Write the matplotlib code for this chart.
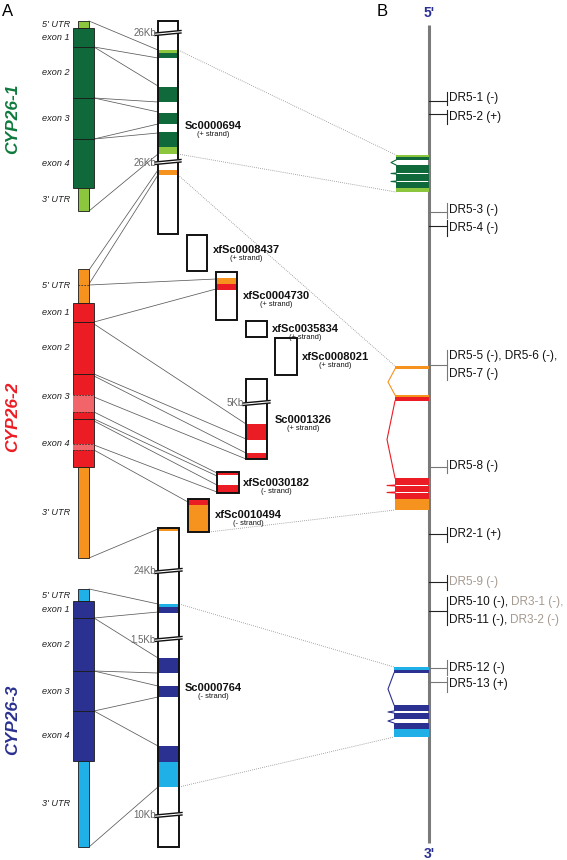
import matplotlib
matplotlib.use('Agg')
import matplotlib.pyplot as plt
from matplotlib.patches import Rectangle, Polygon

plt.rcParams['font.family'] = ['Liberation Sans', 'DejaVu Sans']

# ---------------- colours ----------------
DG = '#10693a'; LG = '#8cc63f'; OR = '#f6921e'; RD = '#ec1c24'; DB = '#2b3190'; LB = '#1fb0e8'
LINE = '#5a5a5a'; DOT = '#8a8a8a'; GREY_TXT = '#a59a90'

# ---------------- panel A: gene models ----------------
gene_names = ['CYP26-1', 'CYP26-2', 'CYP26-3']
gene_label_colors = ['#0f7a3d', RD, DB]
gene_label_y = [119, 417, 720]
seg_labels = ["5' UTR", 'exon 1', 'exon 2', 'exon 3', 'exon 4', "3' UTR"]
cyp1_bounds = [21, 28, 47, 98, 139, 188, 211]
cyp2_bounds = [269, 303, 322, 374, 419, 467, 558]
cyp3_bounds = [589, 601, 618, 671, 711, 761, 847]
gene_bounds = [cyp1_bounds, cyp2_bounds, cyp3_bounds]
exon_colors = [DG, RD, DB]
utr_colors = [LG, OR, LB]
# lighter (alternative) parts of CYP26-2 exons
cyp2_light = [(395, 412), (444, 450)]

# ---------------- scaffolds ----------------
scaf_names = ['Sc0000694', 'xfSc0008437', 'xfSc0004730', 'xfSc0035834', 'xfSc0008021',
              'Sc0001326', 'xfSc0030182', 'xfSc0010494', 'Sc0000764']
scaf_strand = ['(+ strand)', '(+ strand)', '(+ strand)', '(+ strand)', '(+ strand)',
               '(+ strand)', '(- strand)', '(- strand)', '(- strand)']
scaf_x = [(158, 178), (187, 207), (216, 237), (246, 267), (275, 297),
          (246, 267), (217, 239), (188, 209), (158, 179)]
scaf_y = [(21, 234), (235, 271), (272, 320), (321, 337), (338, 375),
          (379, 459), (472, 493), (499, 532), (528, 847)]
scaf_bands = [
    [(50, 53, LG), (53, 58, DG), (87, 102, DG), (113, 124, DG), (132, 147, DG), (147, 154, LG), (170, 175, OR)],
    [],
    [(278, 284, OR), (284, 290, RD)],
    [],
    [],
    [(424, 440, RD), (453, 459, RD)],
    [(472, 475, RD), (485, 493, RD)],
    [(499, 505, RD), (505, 532, OR)],
    [(528, 531, OR), (604, 607, LB), (607, 613, DB), (658, 673, DB), (686, 697, DB), (746, 762, DB), (762, 787, LB)],
]
scaf_breaks = [[(32, '26Kb'), (161, '26Kb')], [], [], [], [], [(402, '5Kb')], [], [],
               [(570, '24Kb'), (638, '1,5Kb'), (814, '10Kb')]]
scaf_label_xy = [(185, 126), (213, 250), (243, 296), (272, 329), (302, 357),
                 (275, 420), (243, 483), (215, 515), (185, 688)]

# ---------------- exon -> scaffold connection lines ----------------
links_cyp1 = [((89, 21), (158, 50)), ((94, 47), (158, 58)), ((94, 47), (158, 86)),
              ((94, 98), (158, 102)), ((94, 98), (158, 112)), ((94, 139), (158, 124)),
              ((94, 139), (158, 133)), ((89, 211), (158, 154))]
links_cyp2 = [((89, 270), (158, 170)), ((89, 284), (158, 175)),
              ((89, 285), (216, 279)), ((94, 322), (216, 289)), ((94, 324), (246, 424)),
              ((94, 374), (246, 439)), ((94, 376), (246, 453)), ((94, 397), (246, 459)),
              ((94, 412), (217, 473)), ((94, 419), (217, 476)), ((94, 421), (217, 485)),
              ((94, 445), (217, 492)), ((94, 450), (188, 502)), ((89, 558), (158, 529))]
links_cyp3 = [((89, 589), (158, 604)), ((94, 618), (158, 612)), ((94, 618), (158, 658)),
              ((94, 671), (158, 673)), ((94, 671), (158, 686)), ((94, 711), (158, 697)),
              ((94, 711), (158, 746)), ((89, 847), (158, 787))]
dotted_links = [((178, 50), (396, 155)), ((178, 154), (396, 192)), ((178, 175), (395, 366)),
                ((209, 532), (395, 510)), ((179, 604), (394, 667)), ((179, 787), (394, 737))]

# ---------------- panel B: genomic axis ----------------
b_glyph_x0 = [396, 395, 394]
b_bars = [
    [(155, 157, LG), (157, 160, DG), (165, 173, DG), (174, 181, DG), (182, 188, DG), (188, 192, LG)],
    [(366, 369, OR), (395, 397, OR), (397, 401, RD), (478, 485, RD), (486, 492, RD), (493, 499, RD), (499, 510, OR)],
    [(667, 670, LB), (670, 673, DB), (705, 711, DB), (713, 719, DB), (723, 729, DB), (729, 737, LB)],
]
b_introns = [
    [((160, 165), 5, DG), ((173, 174), 5, DG), ((181, 182), 5, DG)],
    [((369, 395), 7, OR), ((401, 478), 8, RD), ((485, 486), 8, RD), ((492, 493), 8, RD)],
    [((673, 705), 6, DB), ((711, 713), 6, DB), ((719, 723), 6, DB)],
]

dr_tick_y = [101, 114, 212, 226, 365, 467, 534, 582, 611, 668, 682]
dr_bar = [(92, 105), (110, 124), (203, 218), (220, 236), (350, 380), (460, 473),
          (527, 542), (575, 590), (597, 625), (660, 675), (677, 692)]
dr_tick_col = ['#222', '#222', '#777', '#222', '#777', '#777', '#222', '#222', '#222', '#777', '#777']
dr_labels = [
    [[('DR5-1 (-)', 'k')]],
    [[('DR5-2 (+)', 'k')]],
    [[('DR5-3 (-)', 'k')]],
    [[('DR5-4 (-)', 'k')]],
    [[('DR5-5 (-), DR5-6 (-),', 'k')], [('DR5-7 (-)', 'k')]],
    [[('DR5-8 (-)', 'k')]],
    [[('DR2-1 (+)', 'k')]],
    [[('DR5-9 (-)', 'g')]],
    [[('DR5-10 (-),', 'k'), ('DR3-1 (-),', 'g')], [('DR5-11 (-),', 'k'), ('DR3-2 (-)', 'g')]],
    [[('DR5-12 (-)', 'k')]],
    [[('DR5-13 (+)', 'k')]],
]

# ======================================================================
fig = plt.figure(figsize=(5.67, 8.6), dpi=100)
ax = fig.add_axes([0, 0, 1, 1])
ax.set_xlim(0, 567)
ax.set_ylim(860, 0)
ax.axis('off')

# panel letters
ax.text(2, 11, 'A', fontsize=12, va='center', ha='left')
ax.text(377, 11, 'B', fontsize=12, va='center', ha='left')

# gene models
for gi, bounds in enumerate(gene_bounds):
    for si in range(6):
        y0, y1 = bounds[si], bounds[si + 1]
        if si in (0, 5):
            x0, w, c = 78, 11, utr_colors[gi]
        else:
            x0, w, c = 73, 21, exon_colors[gi]
        ax.add_patch(Rectangle((x0, y0), w, y1 - y0, fc=c, ec='#1a1a1a', lw=0.6, zorder=3))
        ax.text(70, (y0 + y1) / 2, seg_labels[si], ha='right', va='center',
                style='italic', fontsize=6.6, color='#222')
    ax.text(13, gene_label_y[gi], gene_names[gi], rotation=90, ha='center', va='center',
            fontsize=12.5, fontweight='bold', style='italic', color=gene_label_colors[gi])

for (a, b) in cyp2_light:
    ax.add_patch(Rectangle((73, a), 21, b - a, fc='#f0646a', ec='none', zorder=4))
    for yy in (a, b):
        ax.plot([73, 94], [yy, yy], color='#333', lw=0.6, ls=(0, (2, 1.5)), zorder=5)
ax.plot([78, 89], [285, 285], color='#333', lw=0.6, ls=(0, (2, 1.5)), zorder=5)

# connection lines
for links in (links_cyp1, links_cyp2, links_cyp3):
    for (p, q) in links:
        ax.plot([p[0], q[0]], [p[1], q[1]], color=LINE, lw=0.55, zorder=1)
for (p, q) in dotted_links:
    ax.plot([p[0], q[0]], [p[1], q[1]], color=DOT, lw=0.6, ls=(0, (1, 1.5)), zorder=1)

# scaffolds
for i, name in enumerate(scaf_names):
    x0, x1 = scaf_x[i]
    y0, y1 = scaf_y[i]
    ax.add_patch(Rectangle((x0, y0), x1 - x0, y1 - y0, fc='white', ec='none', zorder=2))
    for (b0, b1, c) in scaf_bands[i]:
        ax.add_patch(Rectangle((x0, b0), x1 - x0, b1 - b0, fc=c, ec='none', zorder=3))
    ax.add_patch(Rectangle((x0, y0), x1 - x0, y1 - y0, fc='none', ec='#111', lw=1.4, zorder=4))
    for (yb, lab) in scaf_breaks[i]:
        poly = [(x0 - 3, yb + 1), (x1 + 3, yb - 1.5), (x1 + 3, yb + 1), (x0 - 3, yb + 3.5)]
        ax.add_patch(Polygon(poly, closed=True, fc='white', ec='none', zorder=5))
        ax.plot([x0 - 3, x1 + 3], [yb + 1, yb - 1.5], color='#111', lw=1.0, zorder=6)
        ax.plot([x0 - 3, x1 + 3], [yb + 3.5, yb + 1], color='#111', lw=1.0, zorder=6)
        ax.text(x0 - 2, yb + 1.5, lab, ha='right', va='center', color='#666', fontsize=7, zorder=6)
    lx, ly = scaf_label_xy[i]
    t = ax.text(lx, ly, name, ha='left', va='center', fontsize=8, fontweight='bold', color='#111')
    ax.annotate(scaf_strand[i], xy=(0.5, 0), xycoords=t, xytext=(0, 0.3), textcoords='offset points',
                ha='center', va='top', fontsize=5.4, color='#111')

# panel B axis
ax.plot([429, 429], [25, 843], color='#7a7a7a', lw=2.2, solid_capstyle='butt', zorder=2)
ax.text(429, 13, "5'", ha='center', va='center', fontsize=10, fontweight='bold', color=DB)
ax.text(429, 854, "3'", ha='center', va='center', fontsize=10, fontweight='bold', color=DB)

for gi in range(3):
    x0 = b_glyph_x0[gi]
    for (b0, b1, c) in b_bars[gi]:
        ax.add_patch(Rectangle((x0, b0), 429 - x0, b1 - b0, fc=c, ec='none', zorder=3))
    for ((a, b), dx, c) in b_introns[gi]:
        ax.plot([x0, x0 - dx, x0], [a, (a + b) / 2, b], color=c, lw=0.8, zorder=3)

for i, ty in enumerate(dr_tick_y):
    c = dr_tick_col[i]
    ax.plot([429, 447], [ty, ty], color=c, lw=0.8, zorder=3)
    b0, b1 = dr_bar[i]
    ax.plot([447, 447], [b0, b1], color=c, lw=0.8, zorder=3)
    lines = dr_labels[i]
    n = len(lines)
    yc = (b0 + b1) / 2
    for li, parts in enumerate(lines):
        yy = yc + (li - (n - 1) / 2) * 18
        prev = None
        for (txt, col) in parts:
            cc = '#111' if col == 'k' else GREY_TXT
            if prev is None:
                prev = ax.text(449, yy, txt, ha='left', va='center', fontsize=8.5, color=cc)
            else:
                prev = ax.annotate(txt, xy=(1, 0.5), xycoords=prev, xytext=(2.2, 0),
                                   textcoords='offset points', ha='left', va='center',
                                   fontsize=8.5, color=cc)

fig.savefig('out.png', dpi=100)
